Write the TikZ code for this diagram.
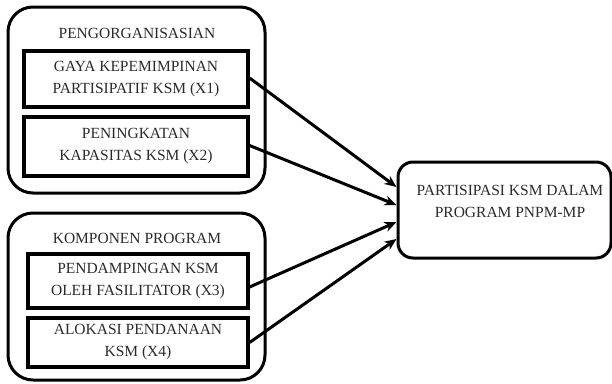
\documentclass[tikz,border=0pt]{standalone}
\usepackage{fontspec}
\setmainfont{Liberation Serif}
\usetikzlibrary{arrows.meta}
\definecolor{txt}{HTML}{2A2A2A}
\begin{document}
\begin{tikzpicture}[x=1pt,y=-1pt,
  every node/.style={font=\fontsize{15.5}{22}\selectfont, text=txt, align=center, inner sep=0pt},
  outerbox/.style={draw, line width=3pt, rounded corners=25pt},
  innerbox/.style={draw, line width=3.2pt},
  resbox/.style={draw, line width=3pt, rounded corners=15pt},
  conn/.style={line width=3pt, -{Stealth[length=12pt,width=10pt]}}
]
\useasboundingbox (0,0) rectangle (612,383);
% outer groups
\node[outerbox, minimum width=257pt, minimum height=186pt] (g1) at (136.5,100) {};
\node[outerbox, minimum width=257pt, minimum height=167pt] (g2) at (136.5,296.5) {};
\node (t1) at (137,33) {PENGORGANISASIAN};
\node (t2) at (137,238) {KOMPONEN PROGRAM};
% inner boxes
\node[innerbox, minimum width=224pt, minimum height=56pt] (b1) at (136,79) {GAYA KEPEMIMPINAN\\PARTISIPATIF KSM (X1)};
\node[innerbox, minimum width=224pt, minimum height=59pt] (b2) at (136,146.5) {PENINGKATAN\\KAPASITAS KSM (X2)};
\node[innerbox, minimum width=220pt, minimum height=54pt] (b3) at (138,281) {PENDAMPINGAN KSM\\OLEH FASILITATOR (X3)};
\node[innerbox, minimum width=220pt, minimum height=49pt] (b4) at (138,342.5) {ALOKASI PENDANAAN\\KSM (X4)};
% result box
\node[resbox, minimum width=213pt, minimum height=96pt] (r) at (504.5,210) {};
\node (rt) at (510,201) {PARTISIPASI KSM DALAM\\PROGRAM PNPM-MP};
% connectors
\draw[conn] ([yshift=1pt]b1.east) -- ([yshift=23pt]r.west);
\draw[conn] ([yshift=1pt]b2.east) -- ([yshift=5pt]r.west);
\draw[conn] ([yshift=-6pt]b3.east) -- ([yshift=-12pt]r.west);
\draw[conn] (b4.east) -- ([yshift=-29pt]r.west);
\end{tikzpicture}
\end{document}
